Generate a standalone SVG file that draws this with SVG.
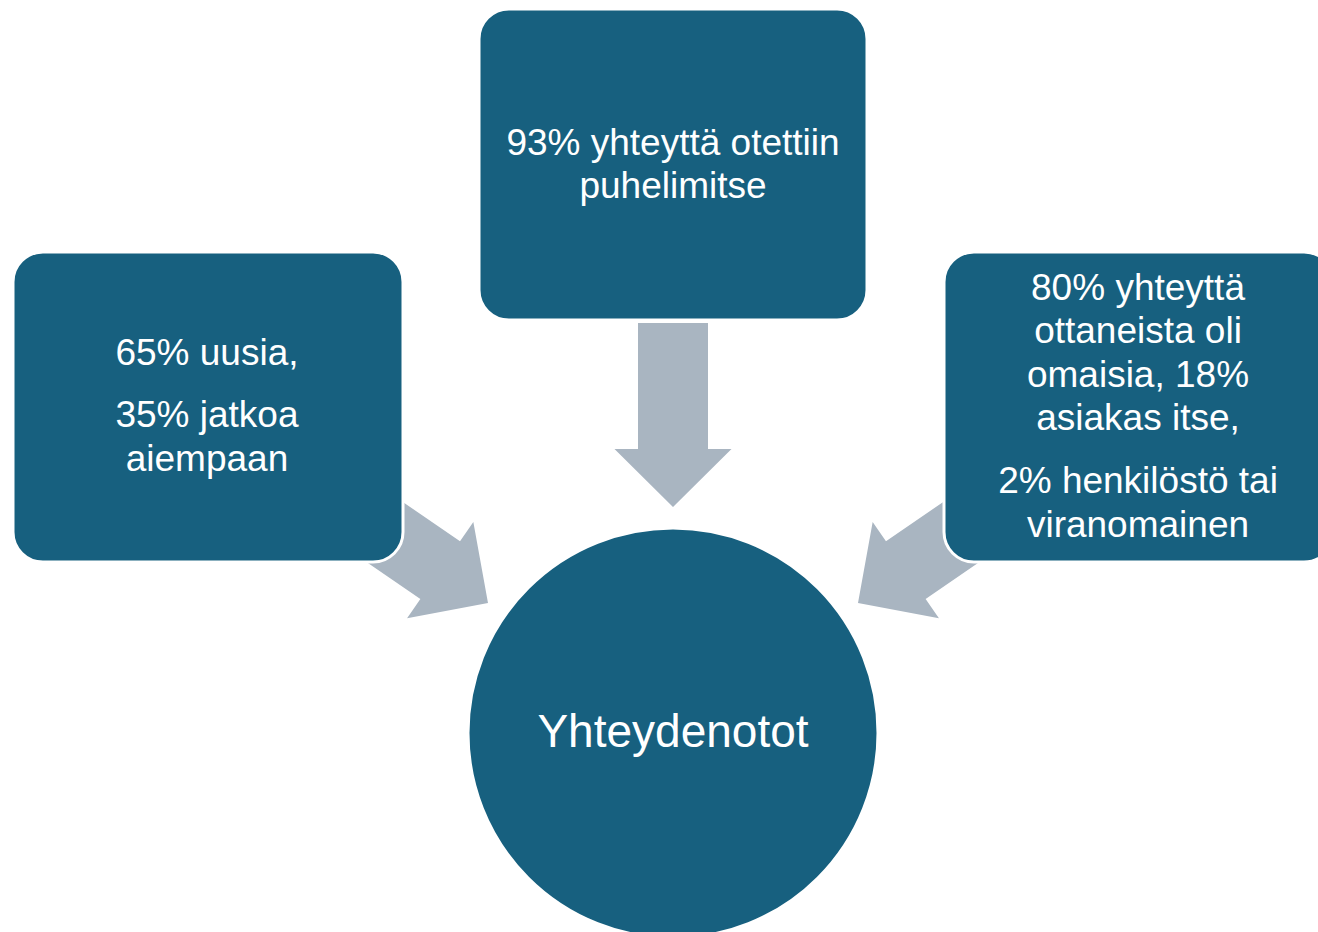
<svg xmlns="http://www.w3.org/2000/svg" width="1318" height="932" viewBox="0 0 1318 932">
<style>
.node{fill:#17607F;stroke:#FFFFFF;stroke-width:3}
.arrow{fill:#A9B5C1}
.t{fill:#FFFFFF;font-family:"Liberation Sans","Open Sans",sans-serif;font-size:37px;text-anchor:middle}
.big{font-size:46px}
</style>
<defs>
<path id="arr" d="M -184 -35 L -58 -35 L -58 -58.5 L 0 0 L -58 58.5 L -58 35 L -184 35 Z"/>
</defs>
<rect width="1318" height="932" fill="#FFFFFF"/>
<g id="connectors">
<use href="#arr" class="arrow" transform="translate(673,507) rotate(90)"/>
<use href="#arr" class="arrow" transform="translate(488,603) rotate(34.5)"/>
<use href="#arr" class="arrow" transform="translate(858,603) rotate(145.5)"/>
</g>
<g id="node-top">
<rect class="node" x="479" y="9" width="388" height="311" rx="30"/>
<text class="t" x="673" y="155">93% yhteyttä otettiin</text>
<text class="t" x="673" y="198">puhelimitse</text>
</g>
<g id="node-left">
<rect class="node" x="13" y="252" width="390" height="310" rx="30"/>
<text class="t" x="207" y="365">65% uusia,</text>
<text class="t" x="207" y="427">35% jatkoa</text>
<text class="t" x="207" y="471">aiempaan</text>
</g>
<g id="node-right">
<rect class="node" x="944" y="252" width="390" height="310" rx="30"/>
<text class="t" x="1138" y="300">80% yhteyttä</text>
<text class="t" x="1138" y="343">ottaneista oli</text>
<text class="t" x="1138" y="387">omaisia, 18%</text>
<text class="t" x="1138" y="430">asiakas itse,</text>
<text class="t" x="1138" y="493">2% henkilöstö tai</text>
<text class="t" x="1138" y="537">viranomainen</text>
</g>
<g id="node-center">
<circle class="node" cx="673" cy="733" r="205"/>
<text class="t big" x="673" y="747">Yhteydenotot</text>
</g>
</svg>
